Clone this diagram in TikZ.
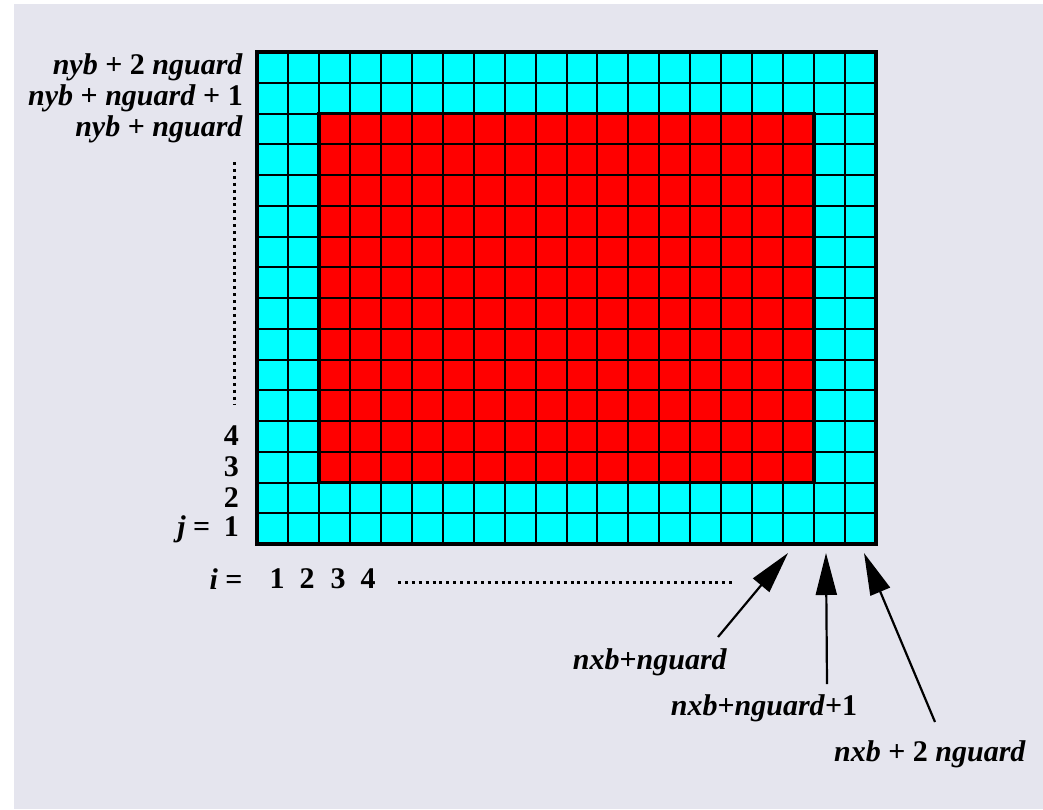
\documentclass[tikz,border=0pt]{standalone}
\usepackage{fontspec}
\setmainfont{Liberation Serif}
\usepackage{xcolor}
\usetikzlibrary{arrows.meta}

\definecolor{paper}{RGB}{229,229,238}
\definecolor{guardcol}{RGB}{0,255,255}
\definecolor{interiorcol}{RGB}{255,0,0}
\newcommand{\vn}[1]{\textit{#1}}

\begin{document}
\begin{tikzpicture}[
        x=1pt, y=-1pt,
        font=\fontsize{30}{33}\selectfont\bfseries,
        lbl/.style={anchor=east, inner sep=0pt},
        idx/.style={inner sep=0pt},
        cellline/.style={draw=black, line width=2pt},
        border/.style={draw=black, line width=3.6pt},
        dotline/.style={line width=3pt, dash pattern=on 3pt off 3.9pt},
        arr/.style={-{Triangle[length=42pt,width=21pt]}, line width=2.2pt, black}
    ]
    \useasboundingbox (0,0) rectangle (1043,809);
    \fill[white] (0,0) rectangle (1043,809);
    \fill[paper] (14,4) rectangle (1043,809);
    % grid of cells
    \fill[guardcol] (257,52) rectangle (876,544);
    \fill[interiorcol] (318.9,113.5) rectangle (814.1,482.5);
    \foreach \i in {1,...,19}
        \draw[cellline] ({257+30.95*\i},52) -- ({257+30.95*\i},544);
    \foreach \j in {1,...,15}
        \draw[cellline] (257,{52+30.75*\j}) -- (876,{52+30.75*\j});
    \draw[border] (318.9,113.5) rectangle (814.1,482.5);
    \draw[border] (257,52) rectangle (876,544);
    % j labels
    \node[lbl] (ytop) at (243,67) {\vn{nyb} + 2 \vn{nguard}};
    \node[lbl] (ytopm) at (243,98) {\vn{nyb} + \vn{nguard} + 1};
    \node[lbl] (yin) at (243,129) {\vn{nyb} + \vn{nguard}};
    \node[lbl] (j4) at (239,436) {4};
    \node[lbl] (j3) at (239,467) {3};
    \node[lbl] (j2) at (239,498) {2};
    \node[lbl] (j1) at (239,529) {\vn{j} =\hspace{0.45em}1};
    \draw[dotline] (234,162) -- (234,404);
    % i labels
    \node[idx] (i0) at (226,579) {\vn{i} =};
    \foreach \n/\x in {1/277,2/307,3/338,4/368}
        \node[idx] (i\n) at (\x,579) {\n};
    \draw[dotline] (398,582) -- (734,582);
    % pointers to the last columns
    \coordinate (tipA) at (788,553);
    \coordinate (tipB) at (826,553);
    \coordinate (tipC) at (864,553);
    \coordinate (tailA) at (718,637);
    \coordinate (tailB) at (827,684);
    \coordinate (tailC) at (935,722);
    \node[idx] (lblA) at (650,662) {\vn{nxb}+\vn{nguard}};
    \node[idx] (lblB) at (764,708) {\vn{nxb}+\vn{nguard}+1};
    \node[idx] (lblC) at (930,754) {\vn{nxb} + 2 \vn{nguard}};
    \draw[arr] (tailA) -- (tipA);
    \draw[arr] (tailB) -- (tipB);
    \draw[arr] (tailC) -- (tipC);
\end{tikzpicture}
\end{document}
